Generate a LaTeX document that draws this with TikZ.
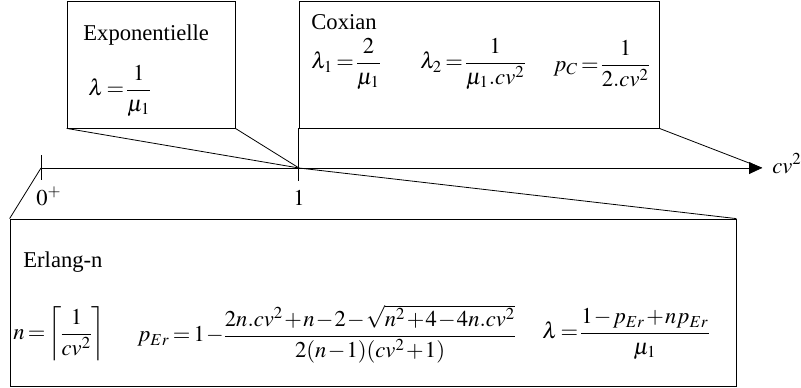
\documentclass[tikz,border=0pt]{standalone}
\usepackage{amsmath}
\usepackage{mathptmx}
\usepackage{fontspec}
\setmainfont{Liberation Serif}
\usetikzlibrary{arrows.meta,positioning}
\begin{document}
\thickmuskip=2.5mu plus 1mu
\medmuskip=1mu plus 1mu
\nulldelimiterspace=0pt
\begin{tikzpicture}[x=0.5pt,y=-0.5pt,
      every node/.style={font=\fontsize{11.3}{13.5}\selectfont},
      box/.style={
        % The shape:
        rectangle,inner sep=0pt,
        % The rest
        draw=black},
      lbl/.style={anchor=base west,inner sep=0pt},
      frm/.style={anchor=west,inner sep=0pt}]
    \useasboundingbox (0,0) rectangle (801,387);
    \node(expo)[box, minimum width=84pt, minimum height=63.5pt] at (151,64.5) {};
    \node(cox)[box, minimum width=180pt, minimum height=63.5pt] at (479,64.5) {};
    \node(erl)[box, minimum width=363pt, minimum height=83.5pt] at (373,302.5) {};
    % the axis
    \coordinate(zero) at (41,168);
    \coordinate(one) at (299,168);
    \coordinate(tip) at (762,168);
    \draw[-{Triangle[length=6.5pt,width=6pt]}] (zero) -- (tip);
    \draw (zero) ++(0,-13) -- ++(0,25);
    \draw (cox.south west) -- ++(0,53);
    \node(zlbl)[lbl] at (36,205) {$0^+$};
    \node(olbl)[anchor=base,inner sep=0pt] at (299,205) {$1$};
    \node(axlbl)[lbl] at (772,173) {$cv^2$};
    % boxes to the axis
    \draw (expo.south west) -- (one);
    \draw (expo.south east) -- (one);
    \draw (cox.south east) -- (tip);
    \draw (erl.north west) -- (zero);
    \draw (erl.north east) -- (one);
    % Exponentielle
    \node(expot)[lbl] at (83,40) {Exponentielle};
    \node(expof)[frm] at (88,91) {$\lambda=\dfrac{1}{\mu_1}$};
    % Coxian
    \node(coxt)[lbl] at (311,29) {Coxian};
    \node(coxa)[frm] at (311,64) {$\lambda_1=\dfrac{2}{\mu_1}$};
    \node(coxb)[frm] at (420,64) {$\lambda_2=\dfrac{1}{\mu_1.cv^2}$};
    \node(coxc)[frm] at (553,64) {$p_C=\dfrac{1}{2.cv^2}$};
    % Erlang-n
    \node(erlt)[lbl] at (23,267) {Erlang-n};
    \node(erla)[frm] at (13,334) {$n=\left\lceil\dfrac{1}{cv^2}\right\rceil$};
    \node(erlb)[frm] at (137,334) {$p_{Er}=1-\dfrac{2n.cv^2+n-2-\sqrt{n^2+4-4n.cv^2}}{2(n-1)(cv^2+1)}$};
    \node(erlc)[frm] at (542,334) {$\lambda=\dfrac{1-p_{Er}+np_{Er}}{\mu_1}$};
  \end{tikzpicture}
\end{document}
